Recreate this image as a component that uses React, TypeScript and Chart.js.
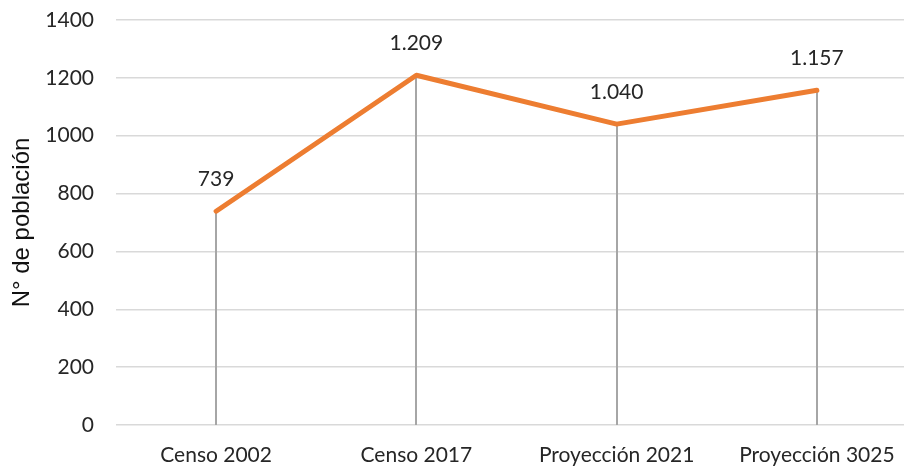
import React, { useEffect, useRef } from "react";
import { Chart, registerables } from "chart.js";

Chart.register(...registerables);

const categories = ["Censo 2002", "Censo 2017", "Proyección 2021", "Proyección 3025"];
const population = [739, 1209, 1040, 1157];
const yTicks = [0, 200, 400, 600, 800, 1000, 1200, 1400];
const yTitle = "N° de población";

const fmt = (v: number) => String(v).replace(/\B(?=(\d{3})+(?!\d))/g, ".");

const dropLines = {
  id: "dropLines",
  beforeDatasetsDraw(chart: any) {
    const { ctx, chartArea } = chart;
    const meta = chart.getDatasetMeta(0);
    ctx.save();
    ctx.strokeStyle = "#a6a6a6";
    ctx.lineWidth = 2;
    meta.data.forEach((pt: any) => {
      ctx.beginPath();
      ctx.moveTo(Math.round(pt.x), pt.y);
      ctx.lineTo(Math.round(pt.x), chartArea.bottom);
      ctx.stroke();
    });
    ctx.restore();
  },
};

const dataLabels = {
  id: "dataLabels",
  afterDatasetsDraw(chart: any) {
    const { ctx } = chart;
    const meta = chart.getDatasetMeta(0);
    const ds = chart.data.datasets[0];
    ctx.save();
    ctx.font = "21px Lato";
    ctx.fillStyle = "#262626";
    ctx.textAlign = "center";
    ctx.textBaseline = "alphabetic";
    meta.data.forEach((pt: any, i: number) => {
      ctx.fillText(fmt(ds.data[i]), pt.x, pt.y - 25);
    });
    ctx.restore();
  },
};

export default function App() {
  const ref = useRef<HTMLCanvasElement>(null);
  useEffect(() => {
    if (!ref.current) return;
    const chart = new Chart(ref.current, {
      type: "line",
      data: {
        labels: categories,
        datasets: [
          {
            data: population,
            borderColor: "#ED7D31",
            backgroundColor: "#ED7D31",
            borderWidth: 5,
            pointRadius: 0,
            pointHoverRadius: 0,
            borderCapStyle: "round",
            borderJoinStyle: "round",
            tension: 0,
          },
        ],
      },
      options: {
        responsive: false,
        animation: false,
        layout: { padding: { top: 20, right: 3, left: 0, bottom: 0 } },
        plugins: { legend: { display: false }, tooltip: { enabled: false } },
        scales: {
          x: {
            offset: true,
            grid: { display: false, drawTicks: false },
            border: { display: false },
            ticks: {
              padding: 18,
              color: "#262626",
              font: { family: "Lato", size: 21 },
              maxRotation: 0,
              autoSkip: false,
            },
            afterFit: (s: any) => {
              s.height = 41;
              s.paddingLeft = 0;
              s.paddingRight = 0;
            },
          },
          y: {
            min: 0,
            max: 1400,
            afterBuildTicks: (s: any) => {
              s.ticks = yTicks.map((v) => ({ value: v }));
            },
            grid: { color: "#d9d9d9", lineWidth: 1.5, drawTicks: false },
            border: { display: false },
            ticks: {
              padding: 22,
              color: "#262626",
              font: { family: "Lato", size: 21 },
              callback: (v: any) => String(v),
            },
            title: {
              display: true,
              text: yTitle,
              color: "#111111",
              font: { family: "Liberation Sans", size: 24 },
              padding: { top: 8, bottom: 0 },
            },
            afterFit: (s: any) => {
              s.width = 116;
              s.paddingTop = 0;
              s.paddingBottom = 0;
            },
          },
        },
      },
      plugins: [dropLines, dataLabels],
    });
    return () => chart.destroy();
  }, []);
  return (
    <div
      style={{
        position: "fixed",
        left: 0,
        top: 0,
        width: 904,
        height: 466,
        overflow: "hidden",
        background: "#ffffff",
      }}
    >
      <canvas ref={ref} width={920} height={466} style={{ display: "block" }} />
    </div>
  );
}
